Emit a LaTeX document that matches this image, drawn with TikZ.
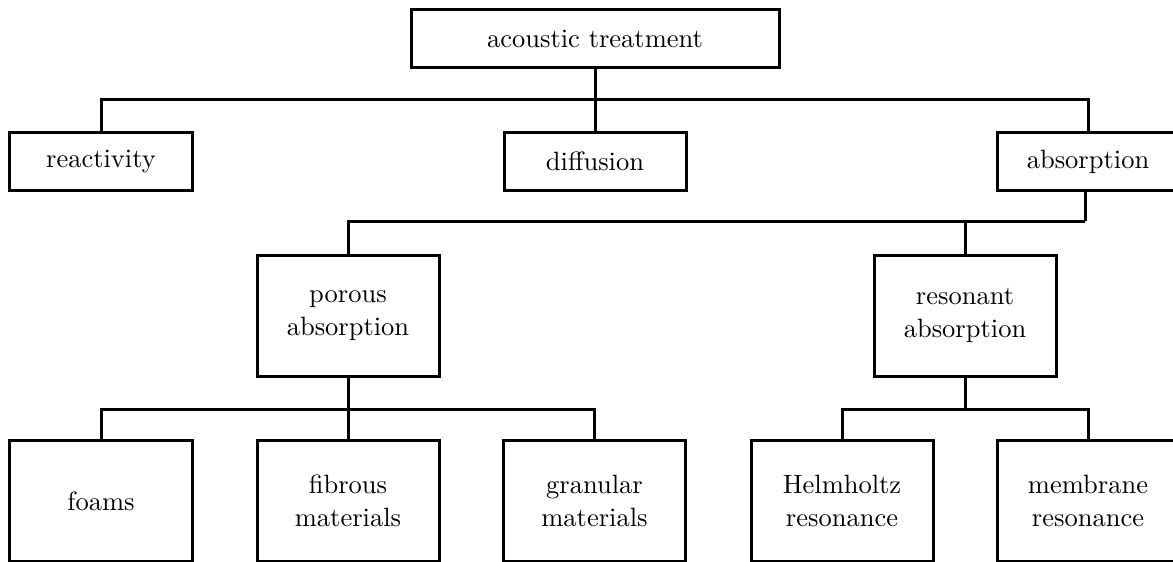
\documentclass[tikz,border=0pt]{standalone}
\usetikzlibrary{positioning}

\begin{document}
\begin{tikzpicture}[
                x=0.4pt, y=-0.4pt,
                font=\fontsize{10.6}{13.3}\selectfont,
                box/.style={draw, rectangle, line width=1.2pt, align=center, minimum width=72.8pt, minimum height=23.2pt, inner sep=2pt},
                tallbox/.style={box, minimum height=48.4pt},
                branch/.style={line width=1.2pt}
            ]

                % Picture frame (the boxes on the right and bottom run past it)
                \clip (0,0) rectangle (1173,561);

                % Top level
                \node[box, minimum width=147.2pt] (treat) at (595,38.5) {acoustic treatment};

                % Second level
                \node[box] (react) at (101,161.5) {reactivity};
                \node[box] (diff) at (595,161.5) {diffusion};
                \node[box] (absorb) at (1088,161.5) {absorption};

                % Kinds of absorption
                \node[tallbox] (porous) at (348,315.5) {porous\\absorption};
                \node[tallbox] (reson) at (965,315.5) {resonant\\absorption};

                % Leaves
                \node[tallbox] (foams) at (101,501) {foams};
                \node[tallbox] (fibre) at (348,501) {fibrous\\materials};
                \node[tallbox] (granul) at (594.5,501) {granular\\materials};
                \node[tallbox] (helm) at (842,501) {Helmholtz\\resonance};
                \node[tallbox] (membr) at (1088,501) {membrane\\resonance};

                % Branch points
                \coordinate (b1) at (595,99);
                \coordinate (b2) at (1085,221);
                \coordinate (b3) at (348,409);
                \coordinate (b4) at (965,409);

                % Connectors
                \draw[branch] (treat) -- (b1);
                \draw[branch] (react.north) |- (b1) -| (absorb.north);
                \draw[branch] (diff) -- (b1);

                \draw[branch] (absorb.south -| b2) -- (b2);
                \draw[branch] (porous.north) |- (b2) -| (reson.north);

                \draw[branch] (porous) -- (b3);
                \draw[branch] (foams.north) |- (b3) -| (granul.north);
                \draw[branch] (fibre) -- (b3);

                \draw[branch] (reson) -- (b4);
                \draw[branch] (helm.north) |- (b4) -| (membr.north);

            \end{tikzpicture}
\end{document}
